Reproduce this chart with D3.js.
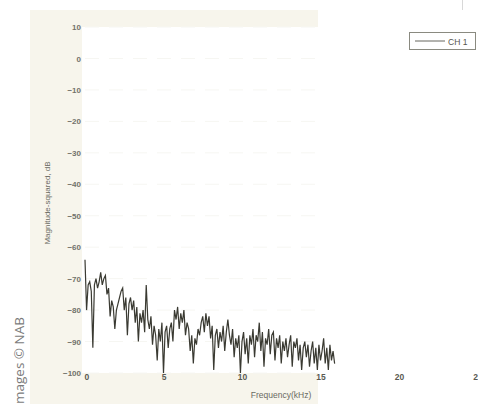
<!DOCTYPE html>
<html><head><meta charset="utf-8">
<script src="https://cdn.jsdelivr.net/npm/d3@7"></script>
<style>body{margin:0;background:#fff;}svg{display:block;}</style>
</head><body>
<script>
const freqStep = 0.1; // kHz
const magnitudeDb = [
-64,-80,-72,-71,-74,-92,-72,-70,-73,-71,
-68,-72,-70,-69,-75,-73,-82,-77,-79,-86,
-80,-78,-76,-74,-73,-80,-76,-88,-78,-76,
-80,-77,-84,-79,-90,-81,-84,-80,-87,-72,
-83,-86,-82,-91,-85,-88,-96,-86,-90,-84,
-100,-87,-85,-92,-86,-84,-90,-80,-83,-79,
-86,-81,-84,-80,-88,-84,-86,-93,-88,-97,
-89,-91,-86,-88,-84,-82,-87,-81,-85,-82,
-89,-85,-99,-88,-86,-92,-87,-90,-85,-93,
-87,-83,-88,-91,-86,-95,-89,-92,-88,-100,
-90,-87,-94,-89,-97,-88,-91,-86,-95,-88,
-90,-84,-93,-87,-98,-89,-91,-86,-94,-88,
-87,-96,-89,-92,-88,-97,-90,-93,-89,-95,
-91,-88,-98,-90,-92,-89,-96,-91,-99,-92,
-90,-95,-91,-98,-93,-90,-97,-92,-99,-91,
-96,-93,-89,-97,-92,-99,-91,-96,-93,-97
];
const xTicks = [0,5,10,15,20,25];
const yTicks = [10,0,-10,-20,-30,-40,-50,-60,-70,-80,-90,-100];
const seriesName = "CH 1";
const xTitle = "Frequency(kHz)";
const yTitle = "Magnitude-squared, dB";
const credit = "mages \u00A9 NAB";

const W = 478, H = 404;
const svg = d3.select("body").append("svg").attr("width", W).attr("height", H);
const x = d3.scaleLinear().domain([0,25]).range([85, 477.5]);
const y = d3.scaleLinear().domain([-100,10]).range([373, 27]);
const font = "'Liberation Sans', Arial, sans-serif";

// scanned beige panel
svg.append("rect").attr("x",30).attr("y",10).attr("width",288).attr("height",H-10).attr("fill","#f7f5ec");
// white plot area
svg.append("rect").attr("x",82).attr("y",27).attr("width",W-82).attr("height",346).attr("fill","#ffffff");
svg.append("rect").attr("x",318).attr("y",0).attr("width",W-318).attr("height",H).attr("fill","#ffffff");

// faint grid
svg.append("g").selectAll("line").data(yTicks).join("line")
  .attr("x1",85).attr("x2",318).attr("y1",d=>y(d)).attr("y2",d=>y(d))
  .attr("stroke","#f6f6f2").attr("stroke-width",1).attr("stroke-dasharray","14,10");

// y axis labels
const yAxis = d3.axisLeft(y).tickValues(yTicks).tickSize(0).tickPadding(0).tickFormat(d3.format("d"));
const gy = svg.append("g").attr("transform","translate(81,0)").call(yAxis);
gy.select(".domain").remove();
gy.selectAll("text").attr("font-family",font).attr("font-size",8).attr("font-weight","bold").attr("fill","#72726a");

// x axis labels
const xAxis = d3.axisBottom(x).tickValues(xTicks).tickSize(0).tickPadding(0).tickFormat(d3.format("d"));
const gx = svg.append("g").attr("transform","translate(0,374)").call(xAxis);
gx.select(".domain").remove();
gx.selectAll("text").attr("font-family",font).attr("font-size",8.5).attr("font-weight","bold").attr("fill","#5a5a52")
  .attr("text-anchor",d=>d===0?"start":"middle").attr("dx",d=>d===0?-1:0);

// titles
svg.append("text").attr("x",281).attr("y",398).attr("text-anchor","middle")
  .attr("font-family",font).attr("font-size",8.5).attr("fill","#6a6a62").text(xTitle);
svg.append("text").attr("transform","translate(50,203) rotate(-90)").attr("text-anchor","middle")
  .attr("font-family",font).attr("font-size",8).attr("fill","#6a6a62").text(yTitle);

// data line
const data = magnitudeDb.map((v,i)=>({f:+(i*freqStep).toFixed(1), v}));
svg.append("path").datum(data)
  .attr("d", d3.line().x(d=>x(d.f)).y(d=>y(d.v)))
  .attr("fill","none").attr("stroke","#3a3a32").attr("stroke-width",1.2).attr("stroke-linejoin","miter");

// legend
const lg = svg.append("g");
lg.append("rect").attr("x",409.5).attr("y",32.5).attr("width",66).attr("height",17)
  .attr("fill","#fff").attr("stroke","#8a8a80").attr("stroke-width",1);
lg.append("line").attr("x1",415).attr("x2",445).attr("y1",41).attr("y2",41).attr("stroke","#66665e").attr("stroke-width",1);
lg.append("text").attr("x",448).attr("y",44.5).attr("font-family",font).attr("font-size",8.5).attr("fill","#55554d").text(seriesName);
svg.append("line").attr("x1",462.5).attr("x2",462.5).attr("y1",0).attr("y2",10).attr("stroke","#d8d8d8");

// credit
svg.append("text").attr("transform","translate(24,404) rotate(-90)").attr("text-anchor","start")
  .attr("font-family","'Open Sans', 'DejaVu Sans', sans-serif").attr("font-size",13.5).attr("fill","#7b7b7b").text(credit);
</script>
</body></html>
